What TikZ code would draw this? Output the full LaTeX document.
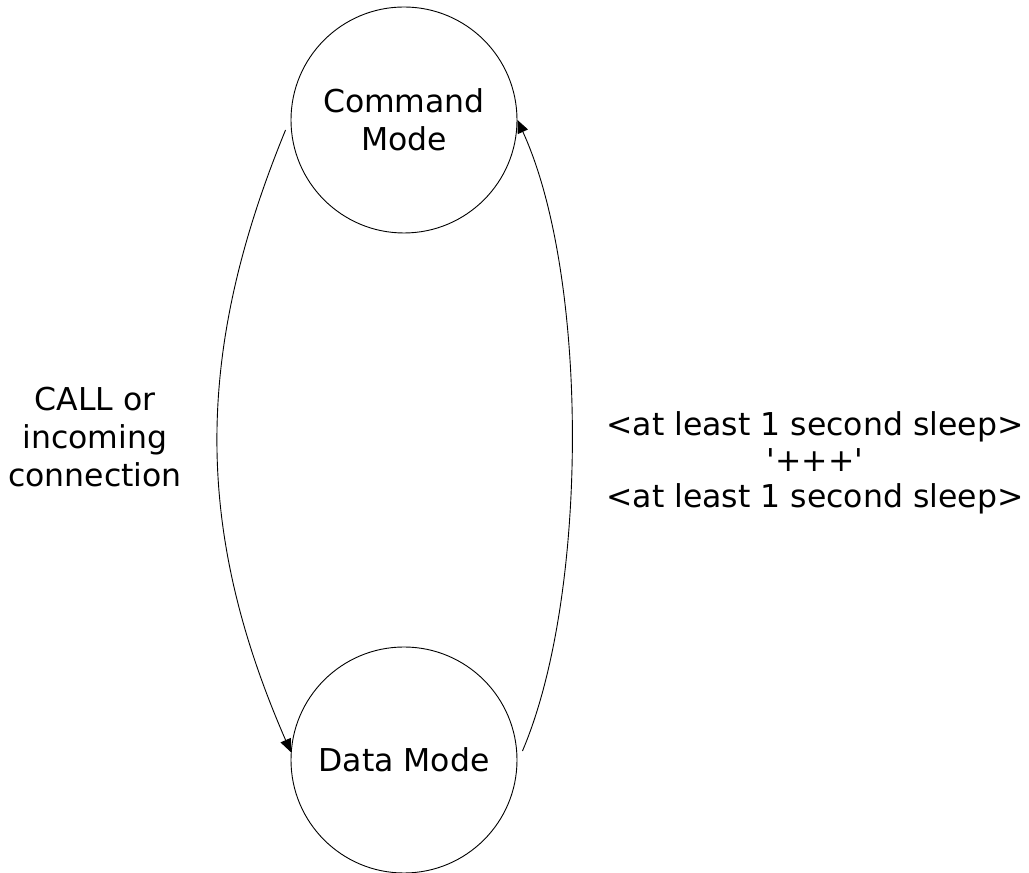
\documentclass[tikz,border=0pt]{standalone}
\usepackage{fontspec}
\setmainfont{DejaVu Sans}
\usetikzlibrary{arrows.meta}
\begin{document}
\begin{tikzpicture}[x=1pt,y=1pt,
  state/.style={draw,circle,line width=0.9pt,minimum size=226pt,inner sep=0pt,align=center,font=\fontsize{31.5}{38}\selectfont},
  lbl/.style={align=center,font=\fontsize{31.5}{38}\selectfont},
  trans/.style={line width=0.9pt,-{Triangle[length=13pt,width=11pt]}}]
\useasboundingbox (0,0) rectangle (1029,873);
\node[state] (cmd) at (404,753) {Command\\Mode};
\node[state] (data) at (404,113) {Data Mode};
\draw[trans] ([shift={(-5pt,-10pt)}]cmd.west) .. controls (194,520) and (194,343) .. (data.176);
\draw[trans] ([shift={(5pt,9pt)}]data.east) .. controls (589,278) and (589,597) .. (cmd.east);
\node[lbl] (l1) at (95,436) {CALL or\\incoming\\connection};
\node[lbl,font=\fontsize{31.5}{36}\selectfont] (l2) at (815,410) {<at least 1 second sleep>\\\textquotesingle+++\textquotesingle\\<at least 1 second sleep>};
\end{tikzpicture}
\end{document}
